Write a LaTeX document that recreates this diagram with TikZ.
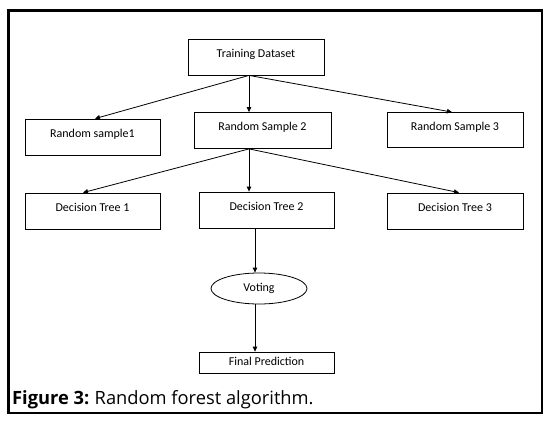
\documentclass[tikz,border=0pt]{standalone}
\usepackage{fontspec}
\setmainfont{Carlito}
\newfontfamily\capfont{Open Sans}
\usetikzlibrary{arrows.meta, positioning, shapes.geometric}
\tikzset{
	rfbox/.style={draw, line width=0.8pt, minimum width=136pt, minimum height=36pt, inner sep=0pt, font=\fontsize{12}{14}\selectfont, text height=9pt, text depth=9pt},
	rfarr/.style={-{Triangle[length=5pt, width=4.5pt]}, line width=0.8pt},
}

\begin{document}
\begin{tikzpicture}[
		x=1pt, y=-1pt,
		voteell/.style={draw, ellipse, line width=0.8pt, minimum width=96pt, minimum height=31pt, inner sep=0pt, font=\fontsize{12}{14}\selectfont}
	]
		\useasboundingbox (0,0) rectangle (553,423);
		\draw[line width=2.5pt] (8.5,10.5) rectangle (542,413);

		% Dataset
		\node[rfbox] (train) at (256,57) {Training Dataset};

		% Bootstrap samples
		\node[rfbox, minimum width=135pt] (rs1) at (92.5,137) {Random sample1};
		\node[rfbox, minimum width=137pt] (rs2) at (262.5,130.5) {Random Sample 2};
		\node[rfbox, minimum height=35pt] (rs3) at (455,130) {Random Sample 3};

		% Trees
		\node[rfbox, minimum width=135pt] (dt1) at (92.5,211) {Decision Tree 1};
		\node[rfbox, minimum width=135pt] (dt2) at (266.5,210) {Decision Tree 2};
		\node[rfbox] (dt3) at (455,211) {Decision Tree 3};

		% Aggregation
		\node[voteell] (vote) at (259,288.5) {Voting};
		\node[rfbox, minimum width=135pt, minimum height=21pt, text height=8pt, text depth=2.5pt] (final) at (266.5,362.5) {Final Prediction};

		\coordinate (tdout) at ([xshift=-7pt]train.south);
		\coordinate (rsout) at ([xshift=-13.5pt]rs2.south);
		\coordinate (dtout) at ([xshift=-11.5pt]dt2.south);

		\draw[rfarr] (tdout) -- ([xshift=2.5pt]rs1.north);
		\draw[rfarr] (tdout) -- (tdout |- rs2.north);
		\draw[rfarr] (tdout) -- ([xshift=-3pt]rs3.north);

		\draw[rfarr] (rsout) -- ([xshift=-9.5pt]dt1.north);
		\draw[rfarr] (rsout) -- (rsout |- dt2.north);
		\draw[rfarr] (rsout) -- ([xshift=4pt]dt3.north);

		\draw[rfarr] (dtout) -- (dtout |- vote.north);
		\draw[rfarr] (vote.south -| dtout) -- (dtout |- final.north);

		% Caption
		\node[anchor=base west, inner sep=0pt, font=\capfont\fontsize{18.3}{21}\selectfont] (cap) at (12,404) {\textbf{Figure 3:}\hspace{-1pt} Random forest algorithm.};
	\end{tikzpicture}
\end{document}
